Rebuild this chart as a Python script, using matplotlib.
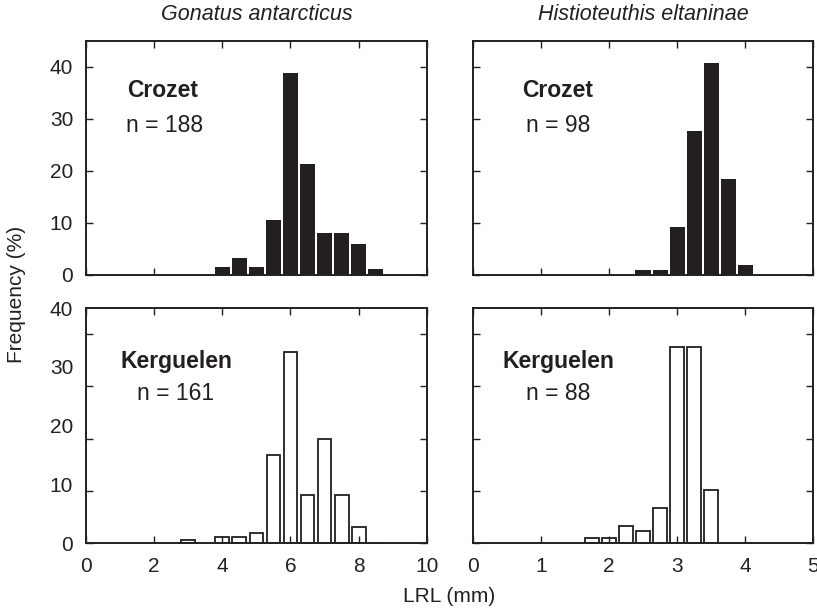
"""Squid beak LRL frequency histograms: Crozet vs Kerguelen, two species."""
import matplotlib
matplotlib.use("Agg")
import matplotlib.pyplot as plt

plt.rcParams["font.family"] = ["Liberation Sans", "DejaVu Sans"]

INK = "#231f20"

# ---- data (percent frequency per LRL bin centre, mm) ----
gon_bins = [3.0, 4.0, 4.5, 5.0, 5.5, 6.0, 6.5, 7.0, 7.5, 8.0, 8.5]
gon_crozet = [0.0, 1.6, 3.2, 1.6, 10.6, 38.8, 21.3, 8.0, 8.0, 5.9, 1.1]
gon_kerguelen = [0.6, 1.2, 1.2, 1.9, 16.8, 36.6, 9.3, 19.9, 9.3, 3.1, 0.0]

his_bins = [1.75, 2.0, 2.25, 2.5, 2.75, 3.0, 3.25, 3.5, 3.75, 4.0]
his_crozet = [0.0, 0.0, 0.0, 1.0, 1.0, 9.2, 27.6, 40.8, 18.4, 2.0]
his_kerguelen = [1.1, 1.1, 3.4, 2.3, 6.8, 37.5, 37.5, 10.2, 0.0, 0.0]

species = ["Gonatus antarcticus", "Histioteuthis eltaninae"]
sites = ["Crozet", "Kerguelen"]
n_counts = [[188, 98], [161, 88]]

W, H = 817, 608
fig = plt.figure(figsize=(W / 100, H / 100), dpi=100)

def px_axes(x0, x1, ytop, ybot):
    return fig.add_axes([x0 / W, 1 - ybot / H, (x1 - x0) / W, (ybot - ytop) / H])

cols = [(85.7, 427.0), (472.9, 813.4)]
rows = [(40.7, 275.0), (308.0, 543.3)]
YMAX = 45
TICK_FS = 15

panels = [
    [(gon_bins, gon_crozet, 0.5), (his_bins, his_crozet, 0.25)],
    [(gon_bins, gon_kerguelen, 0.5), (his_bins, his_kerguelen, 0.25)],
]
xlims = [(0, 10), (0, 5)]
xticks = [range(0, 11, 2), range(0, 6)]
label_pos = [[(0.226, 0.232), (0.25, 0.25)], [(0.267, 0.263), (0.252, 0.25)]]

for r in range(2):
    for c in range(2):
        ax = px_axes(cols[c][0], cols[c][1], rows[r][0], rows[r][1])
        bins, vals, bw = panels[r][c]
        if r == 0:
            ax.bar(bins, vals, width=bw * 0.9, color=INK, edgecolor="none")
        else:
            ax.bar(bins, vals, width=bw * 0.8, facecolor="white",
                   edgecolor=INK, linewidth=1.3)
        ax.set_xlim(*xlims[c])
        ax.set_ylim(0, YMAX)
        ax.set_xticks(list(xticks[c]))
        ax.set_yticks([0, 10, 20, 30, 40])
        ax.tick_params(direction="in", length=5, width=1.0, color=INK,
                       top=True, right=True, labelsize=TICK_FS,
                       labelcolor="#222222")
        ax.tick_params(axis="x", pad=10)
        ax.tick_params(axis="y", pad=9)
        for s in ax.spines.values():
            s.set_linewidth(1.4)
            s.set_color(INK)
        if r == 0:
            ax.tick_params(labelbottom=False)
        if c == 1:
            ax.tick_params(labelleft=False)
        if r == 1 and c == 0:
            # the printed labels on this panel are spread over 0-40 on the box
            ax.tick_params(labelleft=False)
            sec = ax.secondary_yaxis(
                "left", functions=(lambda y: y * 40 / YMAX, lambda y: y * YMAX / 40))
            sec.set_yticks([0, 10, 20, 30, 40])
            sec.tick_params(length=0, labelsize=TICK_FS, pad=9, labelcolor="#222222")
            sec.spines["left"].set_visible(False)
        lx, nx = label_pos[r][c]
        ly = 0.787 if r == 0 else 0.773
        ny = 0.640 if r == 0 else 0.635
        ax.text(lx, ly, sites[r], transform=ax.transAxes, ha="center",
                va="center", fontsize=16.5, fontweight="bold", color=INK)
        ax.text(nx, ny, f"n = {n_counts[r][c]}", transform=ax.transAxes,
                ha="center", va="center", fontsize=16.5, color=INK)

for c in range(2):
    fig.text((cols[c][0] + cols[c][1]) / 2 / W, 1 - 15 / H, species[c],
             ha="center", va="center", fontsize=15.5, style="italic", color=INK)

fig.text(17 / W, 1 - 294 / H, "Frequency (%)", rotation=90, ha="center",
         va="center", fontsize=15, color=INK)
fig.text(449 / W, 1 - 597 / H, "LRL (mm)", ha="center", va="center",
         fontsize=15, color=INK)

fig.savefig("out.png", dpi=100)
